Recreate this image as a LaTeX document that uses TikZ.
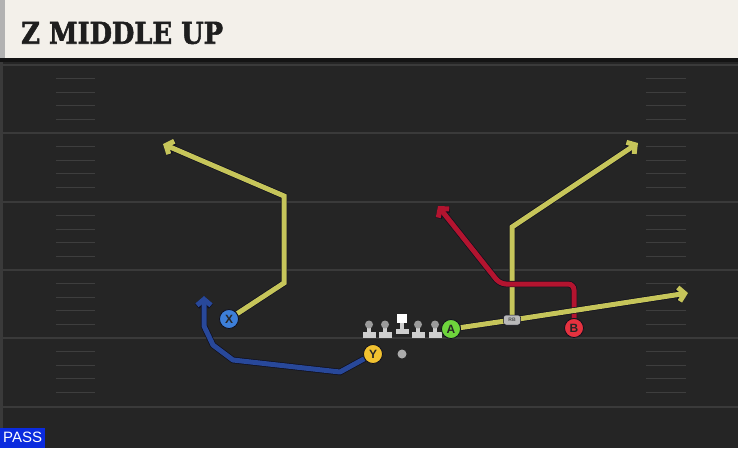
\documentclass[tikz,border=0pt]{standalone}
\usepackage{fontspec}
\setsansfont{Liberation Sans}
\newfontfamily\titlefont[BoldFeatures={FakeBold=2}]{DejaVu Serif}
\usetikzlibrary{arrows.meta}

\pgfdeclarelayer{field}
\pgfdeclarelayer{routes}
\pgfsetlayers{field,routes,main}

\definecolor{fieldbg}{HTML}{252525}
\definecolor{yardline}{HTML}{3A3A3A}
\definecolor{hashline}{HTML}{3E3E3E}
\definecolor{headerbg}{HTML}{F3F0EA}
\definecolor{titleink}{HTML}{1E1E1E}
\definecolor{passblue}{HTML}{0B2BDE}
\definecolor{routeyellow}{HTML}{C6C55A}
\definecolor{routered}{HTML}{B3142F}
\definecolor{routeblue}{HTML}{28489A}
\definecolor{outline}{HTML}{10101E}
\definecolor{xfill}{HTML}{3D7FD8}
\definecolor{yfill}{HTML}{F2C230}
\definecolor{afill}{HTML}{6ED43C}
\definecolor{bfill}{HTML}{E5323F}
\definecolor{lineman}{HTML}{CFCFCF}

\begin{document}
\begin{tikzpicture}[x=1pt, y=-1pt,
  player/.style={circle, draw=outline, line width=0.8pt, minimum size=19pt, inner sep=0pt,
    text=black!85, font=\sffamily\bfseries\fontsize{12}{12}\selectfont},
  route/.style={line width=5pt, -{Straight Barb[length=6pt,width=14pt]},
    preaction={draw=outline, line width=6.4pt}},
  hashmark/.style={hashline, line width=1.2pt}]
\useasboundingbox (0,0) rectangle (738,448);

% field and header
\begin{pgfonlayer}{field}
\fill[fieldbg] (0,0) rectangle (738,448);
\fill[yardline] (0,62) rectangle (3,448);
\foreach \y in {65,133,202,270,338,407}
  \draw[yardline, line width=2pt] (3,\y) -- (738,\y);
\foreach \y in {65,133,202,270,338}
  \foreach \k in {1,...,4} {
    \draw[hashmark] (56,{\y+13.6*\k}) -- (95,{\y+13.6*\k});
    \draw[hashmark] (646,{\y+13.6*\k}) -- (686,{\y+13.6*\k});
  }
\fill[headerbg] (0,0) rectangle (738,58);
\fill[gray!60] (0,0) rectangle (5,58);
\fill[black!92] (0,58) rectangle (738,62);
\end{pgfonlayer}

\node[anchor=west, inner sep=0pt, text=titleink,
  font=\titlefont\bfseries\fontsize{30}{30}\selectfont] (title) at (21,33)
  {\scalebox{0.86}[1]{Z MIDDLE UP}};
\node[fill=passblue, text=white, anchor=south west, inner sep=0pt,
  minimum width=45pt, minimum height=20pt,
  font=\sffamily\fontsize{15}{15}\selectfont] (play) at (0,448) {PASS};

% line
\foreach \x in {369,385,418,435} {
  \fill[lineman] (\x-6.5,332) rectangle (\x+6.5,338);
  \fill[lineman] (\x-2.2,324) rectangle (\x+2.2,333);
  \fill[lineman!75!black] (\x,324.5) circle (4);
}
\fill[lineman] (395.5,328.5) rectangle (408.5,334);
\fill[lineman] (399.8,321) rectangle (404.2,329);
\fill[white] (397,313.5) rectangle (407,322.5);
\node[circle, fill=gray!65, inner sep=0pt, minimum size=9pt] (qb) at (402,354) {};

% players
\node[player, fill=xfill] (X) at (229,319) {X};
\node[player, fill=yfill] (Y) at (373,354) {Y};
\node[player, fill=afill] (A) at (451,329) {A};
\node[player, fill=bfill] (B) at (574,328) {B};
\node[rounded corners=2.5pt, fill=gray!55, draw=outline, line width=0.5pt,
  minimum width=17pt, minimum height=10pt, inner sep=0pt,
  font=\sffamily\bfseries\fontsize{5}{5}\selectfont, text=black!70] (RB) at (512,320) {RB};

% route points
\coordinate (x1) at (284,283);
\coordinate (x2) at (284,196);
\coordinate (xEnd) at (163,144);
\coordinate (y1) at (340,372);
\coordinate (y2) at (233,360);
\coordinate (y3) at (213,345);
\coordinate (y4) at (204,326);
\coordinate (yEnd) at (204,296);
\coordinate (aEnd) at (688,293);
\coordinate (rb1) at (512,227);
\coordinate (rbEnd) at (638,143);
\coordinate (b1) at (574,284);
\coordinate (b2) at (500,284);
\coordinate (bEnd) at (438,206);

% routes
\begin{pgfonlayer}{routes}
\draw[route, routeyellow] (X) -- (x1) -- (x2) -- (xEnd);
\draw[route, routeblue, line join=round] (Y) -- (y1) -- (y2) -- (y3) -- (y4) -- (yEnd);
\draw[route, routeyellow] (RB.center) -- (rb1) -- (rbEnd);
\draw[route, routered, rounded corners=6pt] (B) -- (b1) -- (b2) -- (bEnd);
\draw[route, routeyellow] (A) -- (RB.center) -- (aEnd);
\end{pgfonlayer}
\end{tikzpicture}
\end{document}
